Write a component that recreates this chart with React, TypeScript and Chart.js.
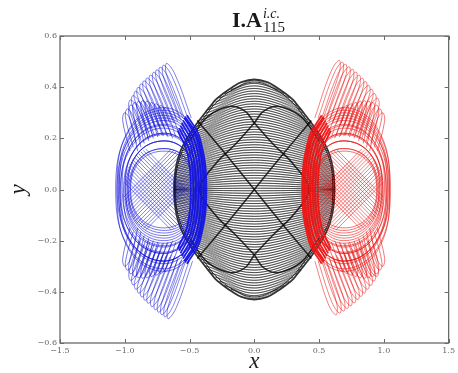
import React, { useEffect, useRef } from "react";
import { Chart, registerables } from "chart.js";

Chart.register(...registerables);

type P = [number, number];

// ---------- axis / title text ----------
const xTickValues = [-1.5, -1.0, -0.5, 0.0, 0.5, 1.0, 1.5];
const yTickValues = [-0.6, -0.4, -0.2, 0.0, 0.2, 0.4, 0.6];
const titleMain = "I.A";
const titleSup = "i.c.";
const titleSub = "115";
const xLabel = "x";
const yLabel = "y";

// ---------- black body (centre) ----------
const blackEnvelopes: P[][] = [
  [[0.62, 0], [0.615, -0.05], [0.6, -0.1], [0.57, -0.15], [0.52, -0.2], [0.455, -0.25], [0.38, -0.3], [0.34, -0.325], [0.3, -0.35], [0.24, -0.375], [0.17, -0.4], [0.1, -0.42], [0, -0.43],
   [-0.1, -0.42], [-0.17, -0.4], [-0.24, -0.375], [-0.3, -0.35], [-0.34, -0.325], [-0.38, -0.3], [-0.455, -0.25], [-0.52, -0.2], [-0.57, -0.15], [-0.6, -0.1], [-0.615, -0.05], [-0.62, 0],
   [-0.615, 0.05], [-0.6, 0.1], [-0.57, 0.15], [-0.52, 0.2], [-0.455, 0.25], [-0.38, 0.3], [-0.34, 0.325], [-0.3, 0.35], [-0.24, 0.375], [-0.17, 0.4], [-0.1, 0.42], [0, 0.43],
   [0.1, 0.42], [0.17, 0.4], [0.24, 0.375], [0.3, 0.35], [0.34, 0.325], [0.38, 0.3], [0.455, 0.25], [0.52, 0.2], [0.57, 0.15], [0.6, 0.1], [0.615, 0.05], [0.62, 0]],
  [[0.607, 0], [0.59, -0.098], [0.51, -0.195], [0.37, -0.293], [0.29, -0.342], [0.16, -0.392], [0, -0.42],
   [-0.16, -0.392], [-0.29, -0.342], [-0.37, -0.293], [-0.51, -0.195], [-0.59, -0.098], [-0.607, 0],
   [-0.59, 0.098], [-0.51, 0.195], [-0.37, 0.293], [-0.29, 0.342], [-0.16, 0.392], [0, 0.42],
   [0.16, 0.392], [0.29, 0.342], [0.37, 0.293], [0.51, 0.195], [0.59, 0.098], [0.607, 0]],
];

// lens rows: [y at middle, y at the two ends, half width]
const blackRowsUpper: [number, number, number][] = [
  [0.42, 0.39, 0.18], [0.41, 0.375, 0.23], [0.4, 0.358, 0.27], [0.39, 0.342, 0.3], [0.38, 0.327, 0.33],
  [0.37, 0.312, 0.355], [0.36, 0.298, 0.375], [0.35, 0.284, 0.395], [0.34, 0.271, 0.415], [0.33, 0.258, 0.435],
  [0.32, 0.246, 0.45], [0.31, 0.234, 0.465], [0.3, 0.222, 0.48], [0.29, 0.211, 0.495], [0.28, 0.2, 0.51],
  [0.27, 0.19, 0.52], [0.26, 0.18, 0.53], [0.25, 0.17, 0.54], [0.24, 0.16, 0.55], [0.23, 0.151, 0.56],
  [0.22, 0.142, 0.567], [0.21, 0.133, 0.573], [0.2, 0.125, 0.578], [0.19, 0.116, 0.584], [0.18, 0.108, 0.589],
  [0.17, 0.1, 0.593], [0.16, 0.092, 0.597], [0.15, 0.085, 0.6], [0.14, 0.078, 0.603], [0.13, 0.071, 0.606],
  [0.12, 0.064, 0.608], [0.11, 0.057, 0.611], [0.1, 0.05, 0.613], [0.09, 0.044, 0.615], [0.08, 0.038, 0.616],
  [0.07, 0.032, 0.617], [0.06, 0.027, 0.618], [0.05, 0.021, 0.619], [0.04, 0.016, 0.62], [0.03, 0.011, 0.62],
  [0.02, 0.006, 0.62], [0.01, 0.002, 0.62], [0.0, 0.0, 0.62],
];
const blackRowsLower: [number, number, number][] = [
  [-0.42, -0.39, 0.18], [-0.41, -0.375, 0.23], [-0.4, -0.358, 0.27], [-0.39, -0.342, 0.3], [-0.38, -0.327, 0.33],
  [-0.37, -0.312, 0.355], [-0.36, -0.298, 0.375], [-0.35, -0.284, 0.395], [-0.34, -0.271, 0.415], [-0.33, -0.258, 0.435],
  [-0.32, -0.246, 0.45], [-0.31, -0.234, 0.465], [-0.3, -0.222, 0.48], [-0.29, -0.211, 0.495], [-0.28, -0.2, 0.51],
  [-0.27, -0.19, 0.52], [-0.26, -0.18, 0.53], [-0.25, -0.17, 0.54], [-0.24, -0.16, 0.55], [-0.23, -0.151, 0.56],
  [-0.22, -0.142, 0.567], [-0.21, -0.133, 0.573], [-0.2, -0.125, 0.578], [-0.19, -0.116, 0.584], [-0.18, -0.108, 0.589],
  [-0.17, -0.1, 0.593], [-0.16, -0.092, 0.597], [-0.15, -0.085, 0.6], [-0.14, -0.078, 0.603], [-0.13, -0.071, 0.606],
  [-0.12, -0.064, 0.608], [-0.11, -0.057, 0.611], [-0.1, -0.05, 0.613], [-0.09, -0.044, 0.615], [-0.08, -0.038, 0.616],
  [-0.07, -0.032, 0.617], [-0.06, -0.027, 0.618], [-0.05, -0.021, 0.619], [-0.04, -0.016, 0.62], [-0.03, -0.011, 0.62],
  [-0.02, -0.006, 0.62], [-0.01, -0.002, 0.62],
];
const blackLensHalfHeight = 0.005;

const blackCaustics: P[][] = [
  [[-0.5, 0.19], [-0.36, 0.285], [-0.18, 0.325], [-0.07, 0.305], [0, 0.26]],
  [[0, 0.26], [0.07, 0.305], [0.18, 0.325], [0.36, 0.285], [0.5, 0.19]],
  [[-0.5, -0.19], [-0.36, -0.285], [-0.18, -0.325], [-0.07, -0.305], [0, -0.255]],
  [[0, -0.255], [0.07, -0.305], [0.18, -0.325], [0.36, -0.285], [0.5, -0.19]],
  [[-0.44, 0.27], [-0.2, 0.125], [0, 0], [0.2, -0.125], [0.44, -0.27]],
  [[0.44, 0.27], [0.2, 0.125], [0, 0], [-0.2, -0.125], [-0.44, -0.27]],
  [[0, 0.26], [-0.15, 0.175], [-0.3, 0.1], [-0.42, 0], [-0.3, -0.1], [-0.15, -0.175], [0, -0.255]],
  [[0, 0.26], [0.15, 0.175], [0.3, 0.1], [0.42, 0], [0.3, -0.1], [0.15, -0.175], [0, -0.255]],
];

// ---------- shared loop outline: [fraction across from outer edge, fraction of half height] ----------
const ringOutline: P[] = [[1, 0], [0.89, 0.71], [0.55, 1], [0.15, 0.74], [0, 0], [0.15, -0.74], [0.55, -1], [0.89, -0.71], [1, 0]];

// ---------- blue body (left) ----------
// rings: [outer x, inner x, half height, centre y]
const blueRings: [number, number, number, number][] = [
  [-1.07, -0.385, 0.31, 0], [-1.06, -0.39, 0.3, 0.02], [-1.06, -0.39, 0.3, -0.02], [-1.05, -0.4, 0.29, 0.01],
  [-1.045, -0.4, 0.28, -0.01], [-1.04, -0.41, 0.27, 0.02], [-1.035, -0.41, 0.26, -0.02], [-1.03, -0.42, 0.25, 0],
  [-1.02, -0.42, 0.24, 0.015], [-1.01, -0.43, 0.23, -0.015], [-1.0, -0.43, 0.22, 0], [-0.995, -0.44, 0.21, 0.01],
  [-0.99, -0.44, 0.2, -0.01], [-0.98, -0.45, 0.19, 0], [-0.975, -0.45, 0.18, 0.01], [-0.97, -0.46, 0.17, -0.01],
  [-0.96, -0.46, 0.16, 0], [-0.955, -0.47, 0.15, 0],
];
// lattice strands: [x0, y0, x1, y1]
const blueLattice: [number, number, number, number][] = [
  [-1.006, 0.029, -0.642, -0.158], [-1.002, 0.042, -0.622, -0.153], [-0.996, 0.054, -0.604, -0.147],
  [-0.989, 0.066, -0.587, -0.14], [-0.98, 0.077, -0.572, -0.133], [-0.971, 0.088, -0.557, -0.125],
  [-0.961, 0.098, -0.543, -0.116], [-0.949, 0.108, -0.531, -0.108], [-0.937, 0.116, -0.519, -0.098],
  [-0.923, 0.125, -0.509, -0.088], [-0.909, 0.133, -0.5, -0.077], [-0.893, 0.14, -0.491, -0.066],
  [-0.876, 0.147, -0.484, -0.054], [-0.858, 0.153, -0.478, -0.042], [-0.838, 0.158, -0.474, -0.029],
  [-1.006, -0.029, -0.642, 0.158], [-1.002, -0.042, -0.622, 0.153], [-0.996, -0.054, -0.604, 0.147],
  [-0.989, -0.066, -0.587, 0.14], [-0.98, -0.077, -0.572, 0.133], [-0.971, -0.088, -0.557, 0.125],
  [-0.961, -0.098, -0.543, 0.116], [-0.949, -0.108, -0.531, 0.108], [-0.937, -0.116, -0.519, 0.098],
  [-0.923, -0.125, -0.509, 0.088], [-0.909, -0.133, -0.5, 0.077], [-0.893, -0.14, -0.491, 0.066],
  [-0.876, -0.147, -0.484, 0.054], [-0.858, -0.153, -0.478, 0.042], [-0.838, -0.158, -0.474, 0.029],
];
// petals: [tipX, tipY, baseX, baseY, halfWidth]
const bluePetals: [number, number, number, number, number][] = [
  [-0.677, 0.493, -0.52, 0.28, 0.033], [-0.702, 0.486, -0.545, 0.278, 0.033], [-0.728, 0.478, -0.57, 0.275, 0.033],
  [-0.753, 0.468, -0.598, 0.27, 0.033], [-0.778, 0.458, -0.625, 0.265, 0.033], [-0.803, 0.447, -0.652, 0.26, 0.033],
  [-0.829, 0.436, -0.68, 0.255, 0.033], [-0.852, 0.425, -0.708, 0.25, 0.033], [-0.875, 0.413, -0.735, 0.245, 0.033],
  [-0.897, 0.399, -0.762, 0.238, 0.033], [-0.918, 0.384, -0.79, 0.23, 0.033], [-0.937, 0.367, -0.82, 0.215, 0.033],
  [-0.956, 0.35, -0.85, 0.2, 0.033],
  [-0.665, -0.505, -0.51, -0.28, 0.033], [-0.69, -0.498, -0.535, -0.278, 0.033], [-0.715, -0.49, -0.56, -0.275, 0.033],
  [-0.74, -0.48, -0.59, -0.27, 0.033], [-0.765, -0.47, -0.62, -0.265, 0.033], [-0.792, -0.458, -0.648, -0.26, 0.033],
  [-0.82, -0.445, -0.675, -0.255, 0.033], [-0.845, -0.433, -0.702, -0.25, 0.033], [-0.87, -0.42, -0.73, -0.245, 0.033],
  [-0.893, -0.405, -0.76, -0.238, 0.033], [-0.915, -0.39, -0.79, -0.23, 0.033], [-0.935, -0.373, -0.82, -0.215, 0.033],
  [-0.955, -0.355, -0.85, -0.2, 0.033],
];
const blueScales: [number, number, number, number, number][] = [
  [-1.0, 0.3, -0.93, 0.15, 0.03], [-0.98, 0.315, -0.905, 0.165, 0.03], [-0.955, 0.33, -0.88, 0.18, 0.03],
  [-0.925, 0.34, -0.845, 0.19, 0.03], [-0.895, 0.345, -0.81, 0.2, 0.03], [-0.863, 0.347, -0.775, 0.205, 0.03],
  [-0.83, 0.345, -0.74, 0.21, 0.03], [-0.795, 0.34, -0.705, 0.21, 0.03], [-0.76, 0.335, -0.67, 0.21, 0.03],
  [-0.725, 0.328, -0.635, 0.205, 0.03], [-0.69, 0.32, -0.6, 0.2, 0.03],
  [-1.0, -0.3, -0.93, -0.15, 0.03], [-0.98, -0.315, -0.905, -0.165, 0.03], [-0.955, -0.33, -0.88, -0.18, 0.03],
  [-0.925, -0.34, -0.845, -0.19, 0.03], [-0.895, -0.345, -0.81, -0.2, 0.03], [-0.863, -0.347, -0.775, -0.205, 0.03],
  [-0.83, -0.345, -0.74, -0.21, 0.03], [-0.795, -0.34, -0.705, -0.21, 0.03], [-0.76, -0.335, -0.67, -0.21, 0.03],
  [-0.725, -0.328, -0.635, -0.205, 0.03], [-0.69, -0.32, -0.6, -0.2, 0.03],
];
const blueBand: P[][] = [
  [[-0.52, 0.29], [-0.42, 0.2], [-0.37, 0], [-0.42, -0.2], [-0.52, -0.29]],
  [[-0.535, 0.285], [-0.43, 0.195], [-0.38, 0], [-0.43, -0.195], [-0.535, -0.285]],
  [[-0.54, 0.28], [-0.44, 0.19], [-0.39, 0], [-0.44, -0.19], [-0.54, -0.28]],
  [[-0.55, 0.27], [-0.455, 0.18], [-0.41, 0], [-0.455, -0.18], [-0.55, -0.27]],
  [[-0.56, 0.26], [-0.47, 0.17], [-0.43, 0], [-0.47, -0.17], [-0.56, -0.26]],
  [[-0.57, 0.25], [-0.485, 0.16], [-0.45, 0], [-0.485, -0.16], [-0.57, -0.25]],
  [[-0.58, 0.24], [-0.5, 0.15], [-0.47, 0], [-0.5, -0.15], [-0.58, -0.24]],
  [[-0.59, 0.23], [-0.515, 0.14], [-0.49, 0], [-0.515, -0.14], [-0.59, -0.23]],
];

// ---------- red body (right) ----------
const redRings: [number, number, number, number][] = [
  [1.05, 0.385, 0.31, 0], [1.045, 0.39, 0.3, 0.02], [1.045, 0.39, 0.3, -0.02], [1.035, 0.4, 0.29, 0.01],
  [1.03, 0.4, 0.28, -0.01], [1.025, 0.41, 0.27, 0.02], [1.02, 0.41, 0.26, -0.02], [1.015, 0.42, 0.25, 0],
  [1.005, 0.42, 0.24, 0.015], [0.995, 0.43, 0.23, -0.015], [0.99, 0.43, 0.22, 0], [0.985, 0.44, 0.21, 0.01],
  [0.98, 0.44, 0.2, -0.01], [0.97, 0.45, 0.19, 0], [0.965, 0.45, 0.18, 0.01], [0.96, 0.46, 0.17, -0.01],
  [0.95, 0.46, 0.16, 0], [0.945, 0.47, 0.15, 0],
];
const redLattice: [number, number, number, number][] = [
  [0.996, 0.029, 0.632, -0.158], [0.992, 0.042, 0.612, -0.153], [0.986, 0.054, 0.594, -0.147],
  [0.979, 0.066, 0.577, -0.14], [0.97, 0.077, 0.562, -0.133], [0.961, 0.088, 0.547, -0.125],
  [0.951, 0.098, 0.533, -0.116], [0.939, 0.108, 0.521, -0.108], [0.927, 0.116, 0.509, -0.098],
  [0.913, 0.125, 0.499, -0.088], [0.899, 0.133, 0.49, -0.077], [0.883, 0.14, 0.481, -0.066],
  [0.866, 0.147, 0.474, -0.054], [0.848, 0.153, 0.468, -0.042], [0.828, 0.158, 0.464, -0.029],
  [0.996, -0.029, 0.632, 0.158], [0.992, -0.042, 0.612, 0.153], [0.986, -0.054, 0.594, 0.147],
  [0.979, -0.066, 0.577, 0.14], [0.97, -0.077, 0.562, 0.133], [0.961, -0.088, 0.547, 0.125],
  [0.951, -0.098, 0.533, 0.116], [0.939, -0.108, 0.521, 0.108], [0.927, -0.116, 0.509, 0.098],
  [0.913, -0.125, 0.499, 0.088], [0.899, -0.133, 0.49, 0.077], [0.883, -0.14, 0.481, 0.066],
  [0.866, -0.147, 0.474, 0.054], [0.848, -0.153, 0.468, 0.042], [0.828, -0.158, 0.464, 0.029],
];
const redPetals: [number, number, number, number, number][] = [
  [0.655, 0.505, 0.5, 0.28, 0.033], [0.68, 0.498, 0.525, 0.278, 0.033], [0.705, 0.49, 0.55, 0.275, 0.033],
  [0.732, 0.48, 0.58, 0.27, 0.033], [0.76, 0.47, 0.61, 0.265, 0.033], [0.785, 0.459, 0.638, 0.26, 0.033],
  [0.81, 0.447, 0.665, 0.255, 0.033], [0.835, 0.435, 0.695, 0.25, 0.033], [0.86, 0.422, 0.725, 0.245, 0.033],
  [0.883, 0.407, 0.755, 0.238, 0.033], [0.905, 0.392, 0.785, 0.23, 0.033], [0.928, 0.375, 0.815, 0.215, 0.033],
  [0.95, 0.357, 0.845, 0.2, 0.033],
  [0.63, -0.49, 0.5, -0.28, 0.033], [0.66, -0.483, 0.525, -0.278, 0.033], [0.69, -0.475, 0.55, -0.275, 0.033],
  [0.718, -0.465, 0.58, -0.27, 0.033], [0.745, -0.455, 0.61, -0.265, 0.033], [0.773, -0.443, 0.638, -0.26, 0.033],
  [0.8, -0.43, 0.665, -0.255, 0.033], [0.825, -0.418, 0.695, -0.25, 0.033], [0.85, -0.405, 0.725, -0.245, 0.033],
  [0.875, -0.39, 0.755, -0.238, 0.033], [0.9, -0.375, 0.785, -0.23, 0.033], [0.923, -0.358, 0.815, -0.215, 0.033],
  [0.945, -0.34, 0.845, -0.2, 0.033],
];
const redScales: [number, number, number, number, number][] = [
  [0.99, 0.3, 0.92, 0.15, 0.03], [0.97, 0.315, 0.895, 0.165, 0.03], [0.945, 0.33, 0.87, 0.18, 0.03],
  [0.915, 0.34, 0.835, 0.19, 0.03], [0.885, 0.345, 0.8, 0.2, 0.03], [0.853, 0.347, 0.765, 0.205, 0.03],
  [0.82, 0.345, 0.73, 0.21, 0.03], [0.785, 0.34, 0.695, 0.21, 0.03], [0.75, 0.335, 0.66, 0.21, 0.03],
  [0.715, 0.328, 0.625, 0.205, 0.03], [0.68, 0.32, 0.59, 0.2, 0.03],
  [0.99, -0.3, 0.92, -0.15, 0.03], [0.97, -0.315, 0.895, -0.165, 0.03], [0.945, -0.33, 0.87, -0.18, 0.03],
  [0.915, -0.34, 0.835, -0.19, 0.03], [0.885, -0.345, 0.8, -0.2, 0.03], [0.853, -0.347, 0.765, -0.205, 0.03],
  [0.82, -0.345, 0.73, -0.21, 0.03], [0.785, -0.34, 0.695, -0.21, 0.03], [0.75, -0.335, 0.66, -0.21, 0.03],
  [0.715, -0.328, 0.625, -0.205, 0.03], [0.68, -0.32, 0.59, -0.2, 0.03],
];
const redBand: P[][] = [
  [[0.52, 0.29], [0.42, 0.2], [0.37, 0], [0.42, -0.2], [0.52, -0.29]],
  [[0.535, 0.285], [0.43, 0.195], [0.38, 0], [0.43, -0.195], [0.535, -0.285]],
  [[0.54, 0.28], [0.44, 0.19], [0.39, 0], [0.44, -0.19], [0.54, -0.28]],
  [[0.55, 0.27], [0.455, 0.18], [0.41, 0], [0.455, -0.18], [0.55, -0.27]],
  [[0.56, 0.26], [0.47, 0.17], [0.43, 0], [0.47, -0.17], [0.56, -0.26]],
  [[0.57, 0.25], [0.485, 0.16], [0.45, 0], [0.485, -0.16], [0.57, -0.25]],
  [[0.58, 0.24], [0.5, 0.15], [0.47, 0], [0.5, -0.15], [0.58, -0.24]],
  [[0.59, 0.23], [0.515, 0.14], [0.49, 0], [0.515, -0.14], [0.59, -0.23]],
];

// ---------- styles ----------
const BLACK = "rgba(0,0,0,0.62)";
const BLACK_DARK = "rgba(0,0,0,0.8)";
const BLUE = "rgba(15,15,215,0.75)";
const BLUE_SOLID = "rgba(20,20,230,0.95)";
const RED = "rgba(232,15,15,0.75)";
const RED_SOLID = "rgba(238,20,20,0.95)";

const fmt = (v: number) => {
  const s = (Math.round(v * 10) / 10).toFixed(1);
  return s.startsWith("-") ? "\u2212" + s.slice(1) : s;
};

function strand(pts: P[], color: string, width: number, tension: number, order: number) {
  return {
    data: pts.map(([x, y]) => ({ x, y })),
    showLine: true,
    borderColor: color,
    backgroundColor: color,
    borderWidth: width,
    pointRadius: 0,
    pointHoverRadius: 0,
    tension,
    fill: false,
    order,
  };
}

function lens(row: [number, number, number]): P[] {
  const [ym, ye, w] = row;
  return [[-w, ye], [0, ym + blackLensHalfHeight], [w, ye], [0, ym - blackLensHalfHeight], [-w, ye]];
}

function ring(r: [number, number, number, number]): P[] {
  const [outer, inner, hh, cy] = r;
  return ringOutline.map(([fx, fy]) => [outer + (inner - outer) * fx, cy + hh * fy] as P);
}

function petal(p: [number, number, number, number, number]): P[] {
  const [tx, ty, bx, by, w] = p;
  const mx = bx + (tx - bx) * 0.8;
  const my = by + (ty - by) * 0.8;
  return [[bx - w, by], [mx - w, my], [tx, ty], [mx + w, my], [bx + w, by]];
}

function buildDatasets() {
  const ds: any[] = [];
  blackRowsUpper.concat(blackRowsLower).forEach((r) => ds.push(strand(lens(r), BLACK, 0.75, 0.4, 5)));
  blackEnvelopes.forEach((e, i) => ds.push(strand(e, BLACK_DARK, i === 0 ? 1.8 : 1.0, 0.4, 4)));
  blackCaustics.forEach((c) => ds.push(strand(c, BLACK_DARK, 1.5, 0.35, 4)));

  blueRings.forEach((r) => ds.push(strand(ring(r), BLUE, 0.75, 0.4, 2)));
  blueLattice.forEach(([a, b, c, d]) => ds.push(strand([[a, b], [c, d]], BLUE, 0.7, 0, 2)));
  bluePetals.forEach((p) => ds.push(strand(petal(p), BLUE, 0.7, 0.4, 2)));
  blueScales.forEach((p) => ds.push(strand(petal(p), BLUE, 0.75, 0.4, 2)));
  blueBand.forEach((b) => ds.push(strand(b, BLUE_SOLID, 1.8, 0.4, 1)));

  redRings.forEach((r) => ds.push(strand(ring(r), RED, 0.75, 0.4, 2)));
  redLattice.forEach(([a, b, c, d]) => ds.push(strand([[a, b], [c, d]], RED, 0.7, 0, 2)));
  redPetals.forEach((p) => ds.push(strand(petal(p), RED, 0.7, 0.4, 2)));
  redScales.forEach((p) => ds.push(strand(petal(p), RED, 0.75, 0.4, 2)));
  redBand.forEach((b) => ds.push(strand(b, RED_SOLID, 1.8, 0.4, 1)));
  return ds;
}

const framePlugin = {
  id: "frameAndTitle",
  afterDraw(chart: any) {
    const { ctx, chartArea: a, scales } = chart;
    ctx.save();
    ctx.strokeStyle = "#6a6a6a";
    ctx.lineWidth = 1.3;
    ctx.strokeRect(a.left, a.top, a.right - a.left, a.bottom - a.top);
    ctx.lineWidth = 1;
    ctx.beginPath();
    xTickValues.forEach((v) => {
      const px = Math.round(scales.x.getPixelForValue(v)) + 0.5;
      ctx.moveTo(px, a.bottom);
      ctx.lineTo(px, a.bottom - 4);
      ctx.moveTo(px, a.top);
      ctx.lineTo(px, a.top + 4);
    });
    yTickValues.forEach((v) => {
      const py = Math.round(scales.y.getPixelForValue(v)) + 0.5;
      ctx.moveTo(a.left, py);
      ctx.lineTo(a.left + 4, py);
      ctx.moveTo(a.right, py);
      ctx.lineTo(a.right - 4, py);
    });
    ctx.stroke();

    ctx.fillStyle = "#1a1a1a";
    ctx.textBaseline = "alphabetic";
    ctx.textAlign = "left";
    ctx.font = 'bold 22px "Liberation Serif"';
    const x0 = 232;
    ctx.fillText(titleMain, x0, 27);
    const w = ctx.measureText(titleMain).width;
    ctx.font = 'italic 14px "Liberation Serif"';
    ctx.fillText(titleSup, x0 + w + 1, 18);
    ctx.font = '15px "Liberation Serif"';
    ctx.fillText(titleSub, x0 + w + 1, 32);
    ctx.restore();
  },
};

export default function App() {
  const ref = useRef<HTMLCanvasElement | null>(null);
  useEffect(() => {
    if (!ref.current) return;
    document.body.style.margin = "0";
    const tickFont = { family: '"DejaVu Serif"', size: 8 };
    const chart = new Chart(ref.current, {
      type: "scatter",
      data: { datasets: buildDatasets() },
      options: {
        responsive: false,
        animation: false,
        devicePixelRatio: 1,
        events: [],
        layout: { padding: { top: 36, right: 2, left: 0, bottom: 0 }, autoPadding: false },
        plugins: { legend: { display: false }, tooltip: { enabled: false }, title: { display: false } },
        scales: {
          x: {
            type: "linear",
            min: -1.5,
            max: 1.5,
            afterFit: (s: any) => { s.height = 30; },
            afterBuildTicks: (s: any) => { s.ticks = xTickValues.map((v) => ({ value: v })); },
            ticks: { callback: (v: any) => fmt(Number(v)), font: tickFont, color: "#666", padding: 3, maxRotation: 0, autoSkip: false },
            grid: { display: false, drawTicks: false },
            border: { display: false },
            title: { display: true, text: xLabel, color: "#1a1a1a", padding: 0, font: { family: '"Liberation Serif"', style: "italic", size: 23, lineHeight: 1 } },
          },
          y: {
            type: "linear",
            min: -0.6,
            max: 0.6,
            afterFit: (s: any) => { s.width = 60; },
            afterBuildTicks: (s: any) => { s.ticks = yTickValues.map((v) => ({ value: v })); },
            ticks: { callback: (v: any) => fmt(Number(v)), font: tickFont, color: "#666", padding: 3, autoSkip: false },
            grid: { display: false, drawTicks: false },
            border: { display: false },
            title: { display: true, text: yLabel, color: "#1a1a1a", padding: { top: 7, bottom: 0 }, font: { family: '"Liberation Serif"', style: "italic", size: 23, lineHeight: 1 } },
          },
        },
      },
      plugins: [framePlugin],
    } as any);
    return () => chart.destroy();
  }, []);
  return (
    <div style={{ position: "fixed", left: 0, top: 0, width: 458, height: 373, background: "#fff" }}>
      <canvas ref={ref} width={458} height={373} style={{ display: "block" }} />
    </div>
  );
}
